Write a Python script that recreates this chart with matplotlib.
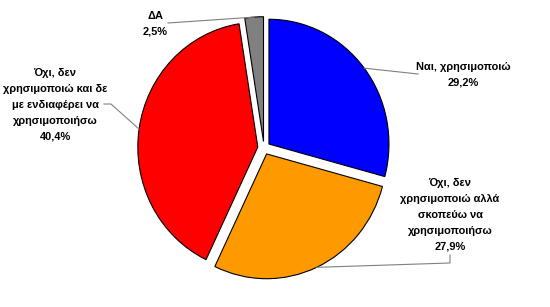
import matplotlib
matplotlib.use("Agg")
import matplotlib.pyplot as plt
import numpy as np
from matplotlib import font_manager

labels = [
    "Ναι, χρησιμοποιώ",
    "Όχι, δεν\nχρησιμοποιώ αλλά\nσκοπεύω να\nχρησιμοποιήσω",
    "Όχι, δεν\nχρησιμοποιώ και δε\nμε ενδιαφέρει να\nχρησιμοποιήσω",
    "ΔΑ",
]
values = [29.2, 27.9, 40.4, 2.5]
value_texts = ["29,2%", "27,9%", "40,4%", "2,5%"]
colors = ["#0000FF", "#FF9900", "#FF0000", "#808080"]

W, H = 550, 307
CX, CY = 264, 148          # pie centre, pixels from top-left
SX, SY = 125, 130          # pixels per radius unit (picture is slightly stretched)

names = {f.name for f in font_manager.fontManager.ttflist}
family = "Liberation Sans Narrow" if "Liberation Sans Narrow" in names else "Liberation Sans"


def px(x, y):
    """pixel (top-left origin) -> data coords"""
    return (x - CX) / SX, (CY - y) / SY


fig = plt.figure(figsize=(W / 100, H / 100), dpi=100)
ax = fig.add_axes([0, 0, 1, 1])
wedges, _ = ax.pie(values, colors=colors, startangle=90, counterclock=False,
                   radius=0.96, explode=[0.05] * 4,
                   wedgeprops=dict(edgecolor="black", linewidth=0.8))
ax.set_aspect("auto")
ax.set_xlim(-CX / SX, (W - CX) / SX)
ax.set_ylim(-(H - CY) / SY, CY / SY)
ax.axis("off")

# label centre, then leader polyline from the label towards the wedge
text_pos = [(463, 75), (450, 215), (55, 105), (155, 24)]
leaders = [[(418, 74)], [(450, 255), (450, 263)], [(104, 104), (111, 104)], [(168, 23)]]

for w, lab, vt, pos, lead in zip(wedges, labels, value_texts, text_pos, leaders):
    ax.text(*px(*pos), f"{lab}\n{vt}", ha="center", va="center", fontsize=7.9,
            fontweight="bold", family=family, linespacing=1.72)
    mid = np.deg2rad((w.theta1 + w.theta2) / 2)
    ex = w.center[0] + w.r * np.cos(mid)
    ey = w.center[1] + w.r * np.sin(mid)
    pts = [px(*p) for p in lead] + [(ex, ey)]
    ax.plot([p[0] for p in pts], [p[1] for p in pts], color="#808080", lw=0.8)

fig.savefig("out.png", dpi=100)
